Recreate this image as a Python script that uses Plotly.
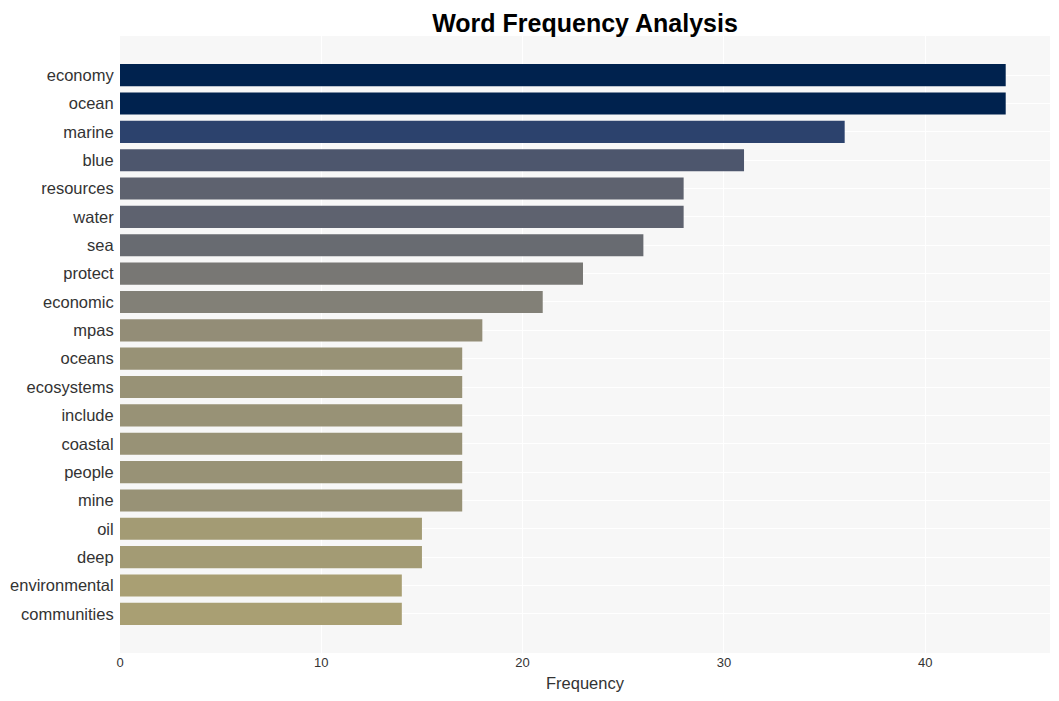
import plotly.graph_objects as go

words = ['economy', 'ocean', 'marine', 'blue', 'resources', 'water', 'sea',
         'protect', 'economic', 'mpas', 'oceans', 'ecosystems', 'include',
         'coastal', 'people', 'mine', 'oil', 'deep', 'environmental', 'communities']
counts = [44, 44, 36, 31, 28, 28, 26, 23, 21, 18, 17, 17, 17, 17, 17, 17, 15, 15, 14, 14]

fig = go.Figure(go.Bar(
    x=counts, y=words, orientation='h',
    marker=dict(color=counts, colorscale='cividis', reversescale=True,
                cmin=0, cmax=44, line=dict(width=0)),
    width=0.78,
))

fig.update_layout(
    width=1059, height=701,
    title=dict(text='<b>Word Frequency Analysis</b>', x=0.5, xref='paper',
               y=0.991, yanchor='top',
               font=dict(family='Liberation Sans, Arial', size=25, color='black')),
    font=dict(family='Liberation Sans, Arial', color='#333'),
    plot_bgcolor='#f7f7f7', paper_bgcolor='white',
    margin=dict(l=112, r=17, t=28, b=56),
    showlegend=False,
)
fig.update_xaxes(title=dict(text='Frequency', font=dict(size=16.5), standoff=8),
                 tickfont=dict(size=13), gridcolor='white', gridwidth=1,
                 zeroline=False, dtick=10, range=[0, 46.2])
fig.update_yaxes(tickfont=dict(size=16.5), gridcolor='white', gridwidth=1,
                 range=[20.38, -1.38], ticks='outside', ticklen=2,
                 tickcolor='rgba(0,0,0,0)', automargin=False)

fig.write_html("out.html")
